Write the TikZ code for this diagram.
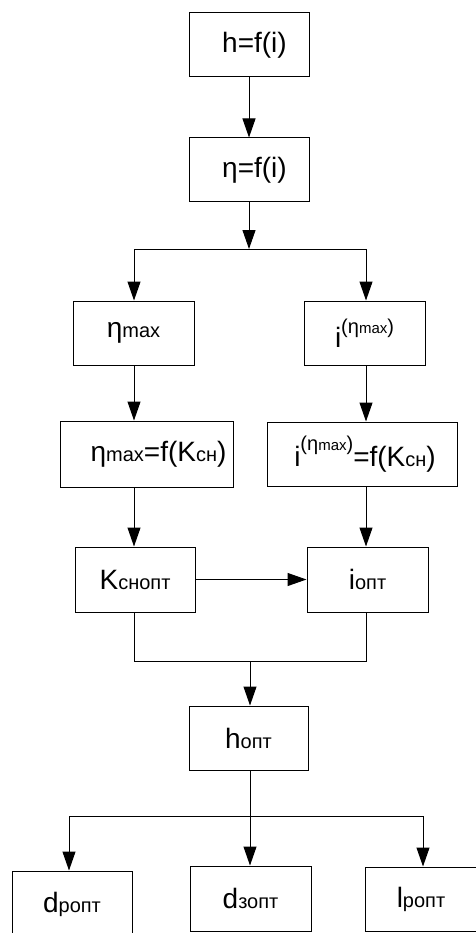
\documentclass[tikz,border=0pt]{standalone}
\usepackage{fontspec}
\setmainfont{Liberation Sans}
\usetikzlibrary{arrows.meta}
\newcommand\sbt[1]{{\fontsize{20}{20}\selectfont #1}}
\newcommand\supeta[1]{\raisebox{#1}{\fontsize{20}{20}\selectfont(η{\fontsize{15}{15}\selectfont max})}}
\begin{document}
\begin{tikzpicture}[x=1pt,y=-1pt,
  box/.style={draw=black, line width=1pt, rectangle, inner sep=0pt,
    font=\fontsize{28}{30}\selectfont},
  conn/.style={line width=1pt},
  arr/.style={conn, -{Triangle[length=19pt,width=13pt]}}]
\useasboundingbox (0,0) rectangle (475,933);
\node[box, minimum width=120pt, minimum height=64pt] (b1) at (249,45) {\hspace*{11pt}h=f(i)};
\node[box, minimum width=120pt, minimum height=64pt] (b2) at (249,170) {\hspace*{11pt}η=f(i)};
\node[box, minimum width=121pt, minimum height=64pt] (b3) at (133.5,333) {η\sbt{max}};
\node[box, minimum width=121pt, minimum height=64pt] (b4) at (364.5,333) {i\supeta{14pt}};
\node[box, minimum width=173pt, minimum height=66pt] (b5) at (146.5,454) {\hspace*{24pt}η\sbt{max}=f(K\sbt{сн})};
\node[box, minimum width=190pt, minimum height=64pt] (b6) at (362,454) {\hspace*{6pt}i\supeta{16pt}=f(K\sbt{сн})};
\node[box, minimum width=120pt, minimum height=65pt] (b7) at (135,579.5) {K\sbt{снопт}};
\node[box, minimum width=121pt, minimum height=65pt] (b8) at (367.5,579.5) {i\sbt{опт}};
\node[box, minimum width=119pt, minimum height=64pt] (b9) at (248.5,738) {h\sbt{опт}};
\node[box, minimum width=120pt, minimum height=66pt] (b10) at (72,904) {d\sbt{ропт}};
\node[box, minimum width=121pt, minimum height=65pt] (b11) at (250.5,898.5) {d\sbt{зопт}};
\node[box, minimum width=120pt, minimum height=64pt] (b12) at (425,899) {l\sbt{ропт}\hspace*{8pt}};
% junctions
\coordinate (j1) at (249,249);
\coordinate (j1l) at (134,249);
\coordinate (j1r) at (366,249);
\coordinate (j2l) at (134,661);
\coordinate (j2r) at (366,661);
\coordinate (j2) at (250,661);
\coordinate (j3) at (250,816);
\coordinate (j3l) at (69,816);
\coordinate (j3r) at (423,816);
\draw[arr] (b1) -- (b2);
\draw[arr] (b2) -- (j1);
\draw[conn] (j1l) -- (j1r);
\draw[arr] (j1l) -- (j1l |- b3.north);
\draw[arr] (j1r) -- (j1r |- b4.north);
\draw[arr] (j1l |- b3.south) -- (j1l |- b5.north);
\draw[arr] (j1r |- b4.south) -- (j1r |- b6.north);
\draw[arr] (j1l |- b5.south) -- (j1l |- b7.north);
\draw[arr] (j1r |- b6.south) -- (j1r |- b8.north);
\draw[arr] (b7) -- (b8);
\draw[conn] (j1l |- b7.south) -- (j2l) -- (j2r) -- (j1r |- b8.south);
\draw[arr] (j2) -- (j2 |- b9.north);
\draw[conn] (j2 |- b9.south) -- (j3);
\draw[conn] (j3l) -- (j3r);
\draw[arr] (j3l) -- (j3l |- b10.north);
\draw[arr] (j3) -- (j3 |- b11.north);
\draw[arr] (j3r) -- (j3r |- b12.north);
\end{tikzpicture}
\end{document}
